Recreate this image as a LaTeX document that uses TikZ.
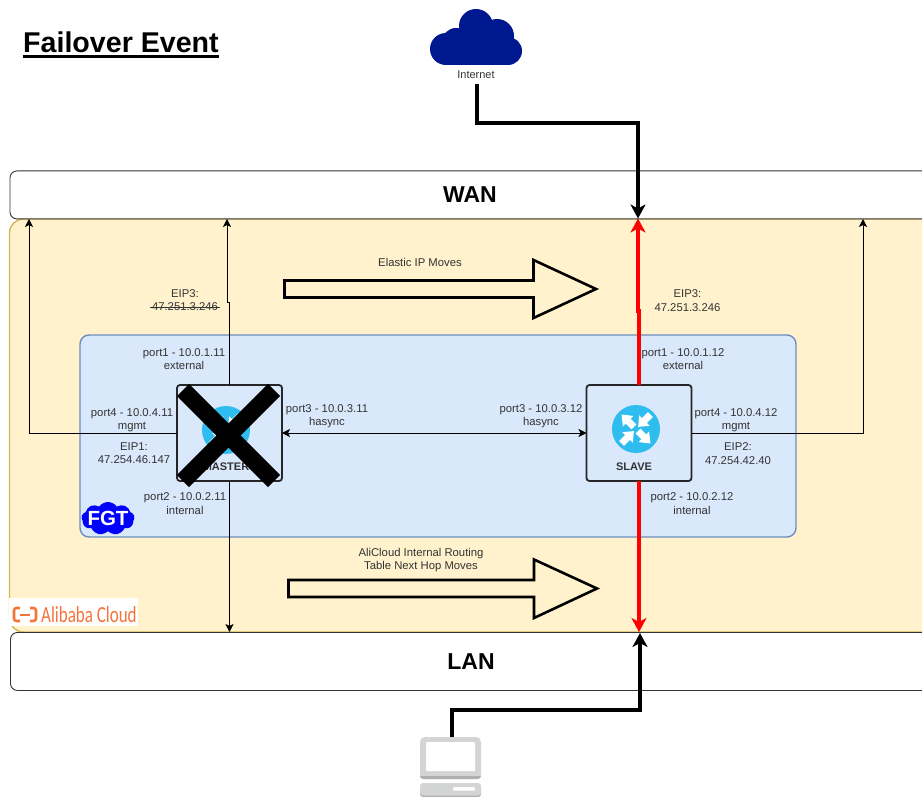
\documentclass[tikz,border=0pt]{standalone}
\usepackage{fontspec}
\setmainfont{Liberation Sans}
\newfontfamily\logofont{Carlito}
\usetikzlibrary{arrows.meta,shapes.symbols}
\definecolor{yellowfill}{HTML}{FFF2CC}
\definecolor{yellowline}{HTML}{D6B656}
\definecolor{bluefill}{HTML}{DAE8FC}
\definecolor{blueline}{HTML}{6C8EBF}
\definecolor{routerblue}{HTML}{2EBDEE}
\definecolor{clouddark}{HTML}{00188F}
\definecolor{aliorange}{HTML}{F4743B}
\definecolor{pcgrey}{HTML}{D3D5D5}
\definecolor{pcdark}{HTML}{AEB0B0}
\definecolor{lblgrey}{HTML}{333333}
\tikzset{
	lbl/.style={font=\fontsize{11.3}{13.3}\selectfont,text=lblgrey,align=center,inner sep=0pt},
	band/.style={draw=black!80,fill=white,rounded corners=7pt,line width=0.9pt,minimum width=1000pt,inner sep=0pt},
	bandtext/.style={font=\fontsize{23}{26}\bfseries\selectfont,inner sep=0pt},
	gatetext/.style={font=\fontsize{11}{13}\bfseries\selectfont,text=lblgrey,inner sep=0pt},
	gatebox/.style={draw=black!85,line width=1.8pt,rounded corners=3pt,minimum width=105pt,minimum height=96pt,outer sep=0pt,inner sep=0pt},
	thinarrow/.style={line width=0.9pt,-{Stealth[length=8pt,width=8pt,inset=2pt]}},
	thickarrow/.style={line width=3.2pt,-{Stealth[length=14pt,width=15pt,inset=4pt]}},
	bigarrow/.style={draw=black,line width=2.6pt,miter limit=10},
	crossout/.style={line width=17pt,line cap=butt},
	router/.pic={
		\fill[routerblue] (0,0) circle (24);
		\foreach \ang in {-45,135}
			\fill[white,rotate=\ang] (3,-3.4)--(11,-3.4)--(11,-7.5)--(20.5,0)--(11,7.5)--(11,3.4)--(3,3.4)--cycle;
		\foreach \ang in {45,-135}
			\fill[white,rotate=\ang] (20.5,-3.4)--(12,-3.4)--(12,-7.5)--(3,0)--(12,7.5)--(12,3.4)--(20.5,3.4)--cycle;
	}
}
\begin{document}
\begin{tikzpicture}[line cap=butt,line join=miter,x=1pt,y=-1pt]
	\useasboundingbox (0,0) rectangle (922,797);
	\clip (0,0) rectangle (922,797);
	\fill[white] (0,0) rectangle (922,797);
	\draw [draw=yellowline,fill=yellowfill,line width=1.4pt,rounded corners=14pt] (9.5,219) rectangle (1000,632);
	\draw [draw=blueline,fill=bluefill,line width=1.4pt,rounded corners=9pt] (80,335) rectangle (796,537);
	\node [band,minimum height=48pt,anchor=north west] (wan) at (9.5,170.5) {};
	\node [band,minimum height=58pt,anchor=north west] (lan) at (10,632) {};
	\node [bandtext] (wantext) at (470,195) {WAN};
	\node [bandtext] (lantext) at (471,662) {LAN};
	\node [font=\fontsize{28.6}{32}\bfseries\selectfont,anchor=base west,inner sep=0pt] (title) at (23,53) {Failover Event};
	\draw [line width=2.6pt] ([yshift=-3.5pt]title.base west) -- ([yshift=-3.5pt]title.base east);

	\coordinate (wanleft) at (29,219);
	\coordinate (wanmid) at (227,219);
	\coordinate (wanhit) at (638,218.5);
	\coordinate (wanright) at (863,219);
	\coordinate (lanmid) at (229.5,632);
	\coordinate (lanhit) at (639,632);
	\coordinate (lanpc) at (640,633);
	\coordinate (inetfoot) at (477,84);
	\coordinate (pctop) at (452,738);

	\path (226,430) pic {router};
	\path (636,429) pic {router};
	\node [gatetext] (mastertext) at (226,467) {MASTER};
	\node [gatetext] (slavetext) at (634,467) {SLAVE};
	\node [gatebox] (master) at (229.5,433) {};
	\node [gatebox] (slave) at (639,433) {};

	\draw [thinarrow] (master.west) -| (wanleft);
	\draw [thinarrow] (master.north) -- ++(0,-83) -| (wanmid);
	\draw [thinarrow] (master.south) -- (lanmid);
	\draw [thinarrow] (slave.east) -| (wanright);
	\draw [line width=0.9pt,{Stealth[length=8pt,width=8pt,inset=2pt]}-{Stealth[length=8pt,width=8pt,inset=2pt]}] (master.east) -- (slave.west);
	\draw [thickarrow,red] (slave.north) -- ++(0,-74) -| (wanhit);
	\draw [thickarrow,red] (slave.south) -- (lanhit);
	\draw [thickarrow] (inetfoot) -- ++(0,39) -| (wanhit);
	\draw [thickarrow] (pctop) -- ++(0,-28) -| (lanpc);

	\draw [crossout] (183,390) -- (274,481);
	\draw [crossout] (274,390) -- (183,481);

	\draw [bigarrow] (284.5,280.5) -- (533.5,280.5) -- (533.5,260) -- (596,289) -- (533.5,318) -- (533.5,297.5) -- (284.5,297.5) -- cycle;
	\draw [bigarrow] (288.5,580) -- (534,580) -- (534,559.5) -- (597,588.5) -- (534,618) -- (534,597) -- (288.5,597) -- cycle;

	\node [lbl] (elastic) at (420,262.5) {Elastic IP Moves};
	\node [lbl] (alirouting) at (421,560) {AliCloud Internal Routing\\Table Next Hop Moves};
	\node [lbl] (eipoldname) at (185,293.5) {EIP3:};
	\node [lbl] (eipold) at (185,307) {47.251.3.246};
	\draw [line width=0.8pt,black!80] ([xshift=-2pt]eipold.west) -- ([xshift=2pt]eipold.east);
	\node [lbl] (eipnew) at (687.5,300.5) {EIP3:\\47.251.3.246};
	\node [lbl] (mport1) at (184,359) {port1 - 10.0.1.11\\external};
	\node [lbl] (mport4) at (132,420.5) {port4 - 10.0.4.11\\mgmt};
	\node [lbl] (meip) at (134,453) {EIP1:\\47.254.46.147};
	\node [lbl] (mport2) at (185,503.5) {port2 - 10.0.2.11\\internal};
	\node [lbl] (mport3) at (327,416.5) {port3 - 10.0.3.11\\hasync};
	\node [lbl] (sport3) at (541,416.5) {port3 - 10.0.3.12\\hasync};
	\node [lbl] (sport1) at (683,359) {port1 - 10.0.1.12\\external};
	\node [lbl] (sport4) at (736,420.5) {port4 - 10.0.4.12\\mgmt};
	\node [lbl] (seip) at (738,453.5) {EIP2:\\47.254.42.40};
	\node [lbl] (sport2) at (692,503.5) {port2 - 10.0.2.12\\internal};

	\node [cloud,cloud puffs=9,cloud puff arc=110,aspect=1.7,fill=blue,minimum width=53pt,minimum height=33pt,inner sep=0pt,outer sep=0pt] (fgt) at (108,518.5) {};
	\node [text=white,inner sep=0pt,font=\fontsize{20.5}{24}\bfseries\selectfont] (fgttext) at (108,518.5) {FGT};

	\fill [clouddark] (476,26) circle (17);
	\fill [clouddark] (497,36) circle (17);
	\fill [clouddark] (508,51) circle (14);
	\fill [clouddark] (456,42) circle (14);
	\fill [clouddark] (446,49) circle (16);
	\fill [clouddark] (446,40) rectangle (508,65);
	\node [font=\fontsize{11}{13}\selectfont,text=lblgrey,inner sep=0pt] (inettext) at (476,74.5) {Internet};

	\fill [white] (9,598) rectangle (138,626);
	\draw [aliorange,line width=2.6pt,rounded corners=2.5pt] (20,608) -- (14,608) -- (14,621) -- (20,621);
	\draw [aliorange,line width=2.6pt,rounded corners=2.5pt] (30,608) -- (36,608) -- (36,621) -- (30,621);
	\draw [aliorange,line width=2pt] (20,614.5) -- (30,614.5);
	\node [anchor=west,inner sep=0pt,text=aliorange,font=\logofont\fontsize{23}{26}\selectfont] (alitext) at (41,614.5) {\scalebox{0.74}[1]{Alibaba Cloud}};

	\fill [pcgrey,rounded corners=5pt] (420,737) rectangle (481,779);
	\fill [pcdark,rounded corners=3pt] (420,772) rectangle (481,779);
	\fill [pcgrey] (420,772) rectangle (481,776);
	\fill [white,rounded corners=1pt] (426,742) rectangle (475,771);
	\fill [pcdark,rounded corners=3pt] (420,786) rectangle (481,797);
	\fill [pcgrey,rounded corners=3pt] (420,783) rectangle (481,795.5);
	\fill [white,rounded corners=1pt] (453,787) rectangle (475,790.5);
\end{tikzpicture}
\end{document}
